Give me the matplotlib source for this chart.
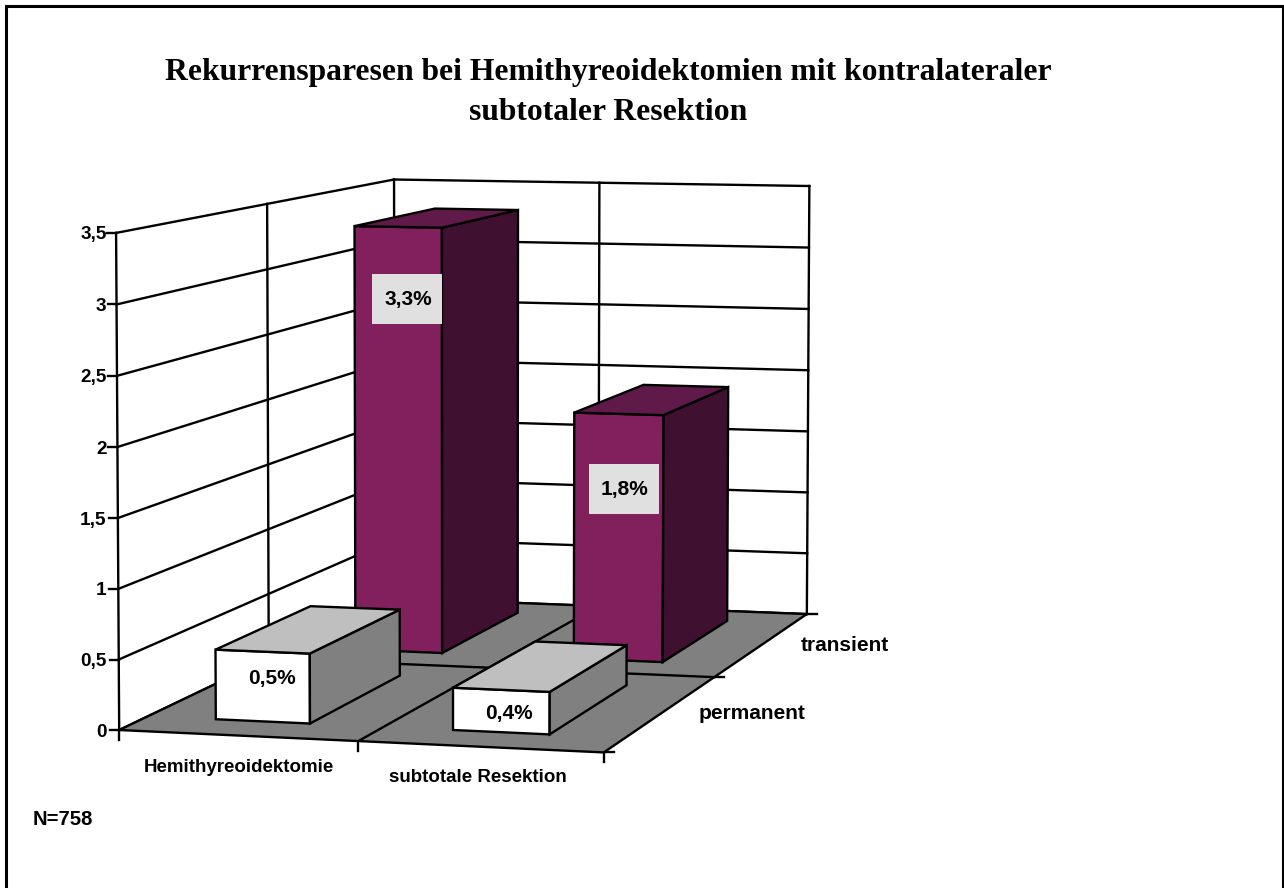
import numpy as np
import matplotlib
matplotlib.use("Agg")
from matplotlib import pyplot as plt
from matplotlib.patches import Polygon, Rectangle

title_lines = ["Rekurrensparesen bei Hemithyreoidektomien mit kontralateraler", "subtotaler Resektion"]
categories = ["Hemithyreoidektomie", "subtotale Resektion"]
series = ["permanent", "transient"]
#heights as drawn in the picture, the printed labels differ a bit
permanent = [0.5, 0.3]
transient = [3.3, 1.9]
perm_labels = ["0,5%", "0,4%"]
trans_labels = ["3,3%", "1,8%"]
z_ticks = [0, 0.5, 1, 1.5, 2, 2.5, 3, 3.5]
z_labels = ["0", "0,5", "1", "1,5", "2", "2,5", "3", "3,5"]
note = "N=758"

#3d box corners -> where they land in the picture, camera is fitted from these
calib_3d = [(0, 0, 0), (1, 0, 0), (2, 0, 0), (2, 1, 0), (2, 2, 0), (0, 2, 0),
            (0, 0, 3.5), (0, 2, 3.5), (2, 2, 3.5), (0, 1, 3.5), (1, 2, 3.5)]
calib_px = [(120, 730), (358, 742), (603, 752), (715, 677), (807, 614), (394, 598),
            (116, 233), (394, 180), (809, 186), (267, 203), (600, 183)]

rows = []
for (X, Y, Z), (u, v) in zip(calib_3d, calib_px):
    rows.append([X, Y, Z, 1, 0, 0, 0, 0, -u*X, -u*Y, -u*Z, -u])
    rows.append([0, 0, 0, 0, X, Y, Z, 1, -v*X, -v*Y, -v*Z, -v])
cam = np.linalg.svd(np.array(rows, dtype=float))[2][-1].reshape(3, 4)


def proj(x, y, z):
    p = cam @ np.array([x, y, z, 1.0])
    return p[0] / p[2], p[1] / p[2]


fig = plt.figure(figsize=(12.84, 8.88), dpi=100)
ax = fig.add_axes([0, 0, 1, 1])
ax.set_xlim(0, 1284)
ax.set_ylim(888, 0)
ax.axis("off")

LW = 1.7
BAR_X = (0.29, 0.69)
BAR_Y = (0.18, 0.84)
SANS = "Liberation Sans"


def line(a, b, lw=LW, z=2):
    pa, pb = proj(*a), proj(*b)
    ax.plot([pa[0], pb[0]], [pa[1], pb[1]], color="black", lw=lw, zorder=z, solid_capstyle="projecting")


def face(pts, color, z):
    ax.add_patch(Polygon([proj(*p) for p in pts], closed=True, facecolor=color,
                         edgecolor="black", lw=LW, joinstyle="miter", zorder=z))


def bar(cat, row, val, front, side, top, z):
    x0, x1 = cat + BAR_X[0], cat + BAR_X[1]
    y0, y1 = row + BAR_Y[0], row + BAR_Y[1]
    face([(x0, y0, 0), (x1, y0, 0), (x1, y0, val), (x0, y0, val)], front, z)
    face([(x1, y0, 0), (x1, y1, 0), (x1, y1, val), (x1, y0, val)], side, z)
    face([(x0, y0, val), (x1, y0, val), (x1, y1, val), (x0, y1, val)], top, z)


#walls
for t in z_ticks:
    line((0, 0, t), (0, 2, t))
    line((0, 2, t), (2, 2, t))
line((0, 0, 0), (0, 0, 3.5))
line((0, 1, 0), (0, 1, 3.5))
line((0, 2, 0), (0, 2, 3.5))
line((1, 2, 0), (1, 2, 3.5))
line((2, 2, 0), (2, 2, 3.5))

#floor
face([(0, 0, 0), (2, 0, 0), (2, 2, 0), (0, 2, 0)], "#808080", 3)
line((0, 1, 0), (2, 1, 0), z=3)
line((1, 0, 0), (1, 2, 0), z=3)

#ticks
for t, lab in zip(z_ticks, z_labels):
    px, py = proj(0, 0, t)
    ax.plot([px - 9, px], [py, py], color="black", lw=LW, zorder=2)
    ax.text(106.5, py + 6.5, lab, ha="right", va="baseline", fontsize=13.7, fontweight="bold", family=SANS)
for c in range(3):
    px, py = proj(c, 0, 0)
    ax.plot([px, px], [py, py + 10], color="black", lw=LW, zorder=2)
for r in range(3):
    px, py = proj(2, r, 0)
    ax.plot([px, px + 10], [py, py], color="black", lw=LW, zorder=2)

#bars, back row first
bar(0, 1, transient[0], "#82205E", "#401030", "#601A4A", 4)
bar(1, 1, transient[1], "#82205E", "#401030", "#601A4A", 5)
bar(0, 0, permanent[0], "#FFFFFF", "#808080", "#BFBFBF", 6)
bar(1, 0, permanent[1], "#FFFFFF", "#808080", "#BFBFBF", 7)

#value labels
for (cx, cy), (bx, by), lab, bg in zip([(408, 299), (625, 489), (272, 678), (509, 713)],
                                       [(407, 299), (624, 489), (272, 677), (509, 712)],
                                       trans_labels + perm_labels,
                                       ["#E0E0E0", "#E0E0E0", None, None]):
    if bg:
        ax.add_patch(Rectangle((bx - 35, by - 25), 70, 50, facecolor=bg, edgecolor="none", zorder=8))
    ax.text(cx, cy, lab, ha="center", va="center", fontsize=15, fontweight="bold",
            family=SANS, zorder=9)

ax.text(238.5, 772, categories[0], ha="center", va="baseline", fontsize=13.5, fontweight="bold", family=SANS)
ax.text(478, 782, categories[1], ha="center", va="baseline", fontsize=13.5, fontweight="bold", family=SANS)
ax.text(699, 719, series[0], ha="left", va="baseline", fontsize=15, fontweight="bold", family=SANS)
ax.text(801, 651, series[1], ha="left", va="baseline", fontsize=15, fontweight="bold", family=SANS)
ax.text(33, 825, note, ha="left", va="baseline", fontsize=14.6, fontweight="bold", family=SANS)

ax.text(608, 80, title_lines[0], ha="center", va="baseline", fontsize=22.8, fontweight="bold",
        family="Liberation Serif")
ax.text(608, 120, title_lines[1], ha="center", va="baseline", fontsize=22.8, fontweight="bold",
        family="Liberation Serif")

#outer frame, open at the bottom
ax.plot([6, 6, 1283, 1283], [888, 6, 6, 888], color="black", lw=2.2, solid_joinstyle="miter", zorder=10)

fig.savefig("out.png", dpi=100)
